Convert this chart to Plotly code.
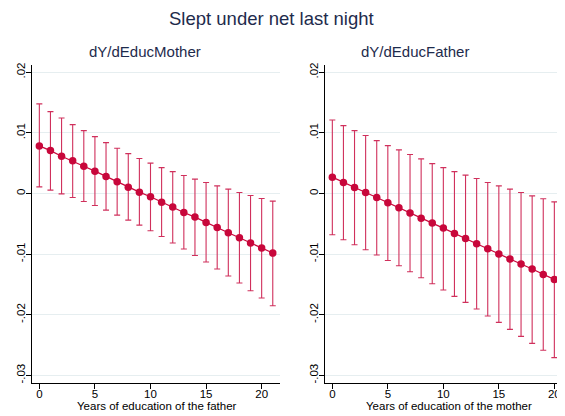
import plotly.graph_objects as go

years = list(range(22))

mother_est = [0.00786, 0.00708, 0.00616, 0.00539, 0.00451, 0.00369, 0.00280, 0.00193, 0.00105, 0.00023,
              -0.00054, -0.00142, -0.00224, -0.00313, -0.00389, -0.00478, -0.00560, -0.00647, -0.00730,
              -0.00817, -0.00900, -0.00982]
mother_hi = [0.01478, 0.01351, 0.01247, 0.01137, 0.01038, 0.00939, 0.00840, 0.00748, 0.00659, 0.00577,
             0.00501, 0.00428, 0.00362, 0.00297, 0.00237, 0.00181, 0.00127, 0.00072, 0.00016,
             -0.00033, -0.00082, -0.00125]
mother_lo = [0.00110, 0.00056, -0.00005, -0.00066, -0.00132, -0.00198, -0.00274, -0.00356, -0.00438, -0.00521,
             -0.00615, -0.00708, -0.00817, -0.00916, -0.01021, -0.01130, -0.01245, -0.01361, -0.01476,
             -0.01603, -0.01723, -0.01850]

father_est = [0.00270, 0.00181, 0.00099, 0.00016, -0.00066, -0.00153, -0.00236, -0.00323, -0.00406, -0.00488,
              -0.00570, -0.00659, -0.00741, -0.00829, -0.00911, -0.00998, -0.01081, -0.01163, -0.01245,
              -0.01334, -0.01417, -0.01504]
father_hi = [0.01214, 0.01120, 0.01038, 0.00956, 0.00873, 0.00791, 0.00720, 0.00643, 0.00572, 0.00494,
             0.00428, 0.00362, 0.00303, 0.00247, 0.00181, 0.00127, 0.00072, 0.00016, -0.00038,
             -0.00087, -0.00137, -0.00186]
father_lo = [-0.00680, -0.00763, -0.00845, -0.00928, -0.01015, -0.01104, -0.01191, -0.01290, -0.01389, -0.01488,
             -0.01591, -0.01697, -0.01796, -0.01905, -0.02020, -0.02125, -0.02240, -0.02356, -0.02471,
             -0.02586, -0.02707, -0.02827]

y_tickvals = [0.02, 0.01, 0.0, -0.01, -0.02, -0.03]
y_ticktext = [".02", ".01", "0", "-.01", "-.02", "-.03"]
x_tickvals = [0, 5, 10, 15, 20]

main_title = "Slept under net last night"
panel_titles = ["dY/dEducMother", "dY/dEducFather"]
x_titles = ["Years of education of the father", "Years of education of the mother"]

W, H = 565, 416
OFF = 8  # page body margin: figure is drawn 8px in from the page corner
RED = "#c8073b"
BAR = "#d0305c"
FONT = "Liberation Sans, Arial, sans-serif"
NAVY = "#1e2b4c"
GRID = "#e6eef0"

def px(x):
    return (x - OFF) / W

def py(y):
    return 1 - (y - OFF) / H

fig = go.Figure()

def add_panel(est, hi, lo, xa, ya):
    plus = [h - e for h, e in zip(hi, est)]
    minus = [e - l for e, l in zip(est, lo)]
    fig.add_trace(go.Scatter(
        x=years, y=est, mode="lines+markers", xaxis=xa, yaxis=ya,
        line=dict(color=RED, width=1.2),
        marker=dict(color=RED, size=7.5),
        error_y=dict(type="data", symmetric=False, array=plus, arrayminus=minus,
                     color=BAR, thickness=1.1, width=3),
        showlegend=False, hoverinfo="x+y"))

add_panel(mother_est, mother_hi, mother_lo, "x", "y")
add_panel(father_est, father_hi, father_lo, "x2", "y2")

ydom = [py(383), py(65)]
xdom1 = [px(32), px(280)]
xdom2 = [px(325), 1.0]

def xaxis_def(dom, rng, anchor):
    return dict(domain=dom, range=rng, anchor=anchor, tickvals=x_tickvals,
                showline=True, linecolor="black", linewidth=1, ticks="outside", ticklen=5,
                tickcolor="black", showgrid=False, zeroline=False, ticklabelstandoff=-5,
                tickfont=dict(family=FONT, size=11.5, color="black"), automargin=False)

def yaxis_def(anchor):
    return dict(domain=ydom, range=[-0.03125, 0.0212], anchor=anchor, tickvals=y_tickvals,
                ticktext=y_ticktext, tickangle=-90, ticklabelstandoff=-4,
                showline=True, linecolor="black", linewidth=1, ticks="outside", ticklen=5,
                tickcolor="black", showgrid=True, gridcolor=GRID, gridwidth=1, zeroline=False,
                tickfont=dict(family=FONT, size=11.5, color="black"), automargin=False)

def ann(text, x, y, size, color):
    return dict(text=text, x=px(x), y=py(y), xref="paper", yref="paper",
                showarrow=False, xanchor="center", yanchor="middle",
                font=dict(family=FONT, size=size, color=color))

fig.update_layout(
    width=W, height=H,
    margin=dict(l=0, r=0, t=0, b=0),
    paper_bgcolor="white", plot_bgcolor="white",
    xaxis=xaxis_def(xdom1, [-0.66, 21.65], "y"),
    yaxis=yaxis_def("x"),
    xaxis2=xaxis_def(xdom2, [-0.66, 21.68], "y2"),
    yaxis2=yaxis_def("x2"),
    annotations=[
        ann(main_title, 271, 18, 18.5, NAVY),
        ann(panel_titles[0], 144.7, 52, 15, NAVY),
        ann(panel_titles[1], 415, 52, 15, NAVY),
        ann(x_titles[0], 156.5, 406, 11.5, "black"),
        ann(x_titles[1], 449, 406, 11.5, "black"),
    ],
)

fig.write_html("out.html")
